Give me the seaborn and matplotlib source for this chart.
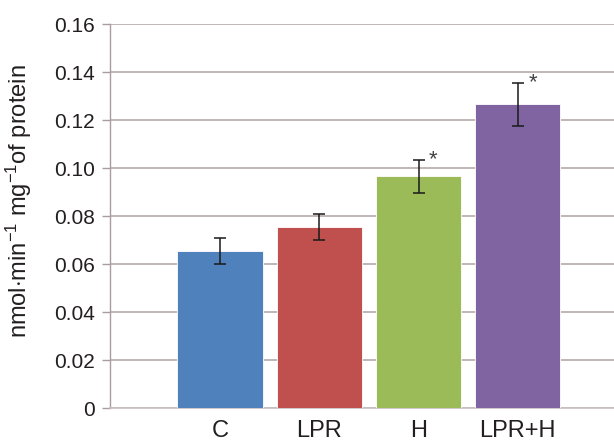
import numpy as np
import pandas as pd
import matplotlib
matplotlib.use("Agg")
import matplotlib.pyplot as plt
import seaborn as sns

groups = ["C", "LPR", "H", "LPR+H"]
activity = [0.0655, 0.0755, 0.0965, 0.1265]
sem = [0.0053, 0.0055, 0.0068, 0.0088]
significant = [False, False, True, True]
bar_colors = ["#4F81BD", "#C0504D", "#9BBB59", "#8064A2"]
y_ticks = [0, 0.02, 0.04, 0.06, 0.08, 0.10, 0.12, 0.14, 0.16]
y_tick_labels = ["0", "0.02", "0.04", "0.06", "0.08", "0.10", "0.12", "0.14", "0.16"]

sns.set_style("white")
plt.rcParams["font.family"] = ["Liberation Sans", "DejaVu Sans"]
plt.rcParams["mathtext.fontset"] = "custom"
plt.rcParams["mathtext.rm"] = "Liberation Sans"
plt.rcParams["mathtext.it"] = "Liberation Sans"

df = pd.DataFrame({"group": groups, "activity": activity})

fig = plt.figure(figsize=(6.14, 4.45), dpi=100)
ax = fig.add_axes([0.179, 0.083, 0.821, 0.863])

sns.barplot(data=df, x="group", y="activity", hue="group", palette=bar_colors,
            order=groups, width=0.86, saturation=1, legend=False, ax=ax, zorder=3)
for p in ax.patches:
    p.set_edgecolor("white")
    p.set_linewidth(0.6)

ax.errorbar(np.arange(len(groups)), activity, yerr=sem, fmt="none",
            ecolor="#1a1a1a", elinewidth=1.1, capsize=4, capthick=1.1, zorder=4)

for i, sig in enumerate(significant):
    if sig:
        ax.text(i + 0.15, activity[i] + sem[i] + 0.0002, "*", fontsize=16,
                ha="center", va="center", color="#444444")

ax.set_ylim(0, 0.16)
ax.set_xlim(-1.11, 3.97)
ax.set_yticks(y_ticks)
ax.set_yticklabels(y_tick_labels)
ax.yaxis.grid(True, color="#B8AAAA", linewidth=1.2, zorder=0)
ax.set_axisbelow(True)

for side in ["top", "right"]:
    ax.spines[side].set_visible(False)
ax.spines["left"].set_color("#A89C9C")
ax.spines["bottom"].set_color("#C8C0C0")
ax.spines["left"].set_linewidth(1.0)
ax.spines["bottom"].set_linewidth(1.2)

ax.tick_params(axis="y", which="both", left=True, length=6, width=1.0,
               color="#A89C9C", labelsize=15, labelcolor="#231F20", pad=5)
ax.tick_params(axis="x", bottom=False, labelsize=17, labelcolor="#231F20", pad=5)

ax.set_xlabel("")
ax.set_ylabel(r"nmol$\cdot$min$^{-1}$ mg$^{-1}$of protein", fontsize=17,
              color="#231F20")
ax.yaxis.set_label_coords(-0.15, 0.54)

fig.savefig("out.png", dpi=100)
